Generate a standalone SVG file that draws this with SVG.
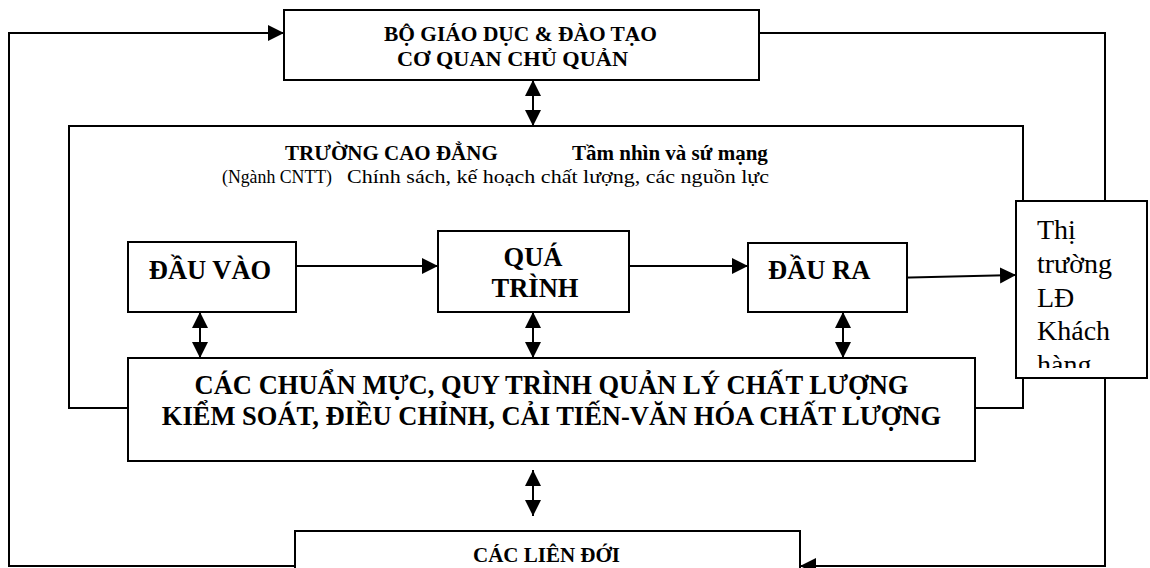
<svg xmlns="http://www.w3.org/2000/svg" width="1150" height="568" viewBox="0 0 1150 568">
  <style>
    .box { fill: #fff; stroke: #000; stroke-width: 2; }
    .wire { fill: none; stroke: #000; stroke-width: 2; }
    .b { font-family: "Liberation Serif", "Times New Roman", serif; font-weight: bold; fill: #000; }
    .r { font-family: "Liberation Serif", "Times New Roman", serif; fill: #000; }
  </style>
  <defs>
    <marker id="head" markerUnits="userSpaceOnUse" markerWidth="18" markerHeight="18" refX="16" refY="8" orient="auto-start-reverse">
      <path d="M0,0 L16,8 L0,16 Z" fill="#000"/>
    </marker>
    <clipPath id="marketClip">
      <rect x="1017" y="202" width="129" height="166"/>
    </clipPath>
  </defs>

  <rect width="1150" height="568" fill="#fff"/>

  <!-- connectors -->
  <g id="connectors">
    <!-- feedback loop: stakeholders to ministry (left) -->
    <path class="wire" d="M295,566 H9 V33 H284" marker-end="url(#head)"/>
    <!-- ministry to stakeholders (right) -->
    <path class="wire" d="M759,33 H1105 V566 H800" marker-end="url(#head)"/>
    <!-- college frame around the process chain -->
    <path class="wire" d="M128,408 H69 V126 H1023 V408 H975"/>
    <!-- ministry <-> college -->
    <line class="wire" x1="533" y1="80" x2="533" y2="126" marker-start="url(#head)" marker-end="url(#head)"/>
    <!-- process chain -->
    <line class="wire" x1="296" y1="266" x2="438" y2="266" marker-end="url(#head)"/>
    <line class="wire" x1="629" y1="266" x2="748" y2="266" marker-end="url(#head)"/>
    <line class="wire" x1="889" y1="278" x2="1016" y2="275" marker-end="url(#head)"/>
    <!-- links to the quality standards block -->
    <line class="wire" x1="200" y1="312" x2="200" y2="358" marker-start="url(#head)" marker-end="url(#head)"/>
    <line class="wire" x1="533" y1="312" x2="533" y2="358" marker-start="url(#head)" marker-end="url(#head)"/>
    <line class="wire" x1="843" y1="312" x2="843" y2="358" marker-start="url(#head)" marker-end="url(#head)"/>
    <line class="wire" x1="533" y1="470" x2="533" y2="516" marker-start="url(#head)" marker-end="url(#head)"/>
  </g>

  <!-- ministry / governing body -->
  <g id="ministry">
    <rect class="box" x="284" y="10" width="475" height="70"/>
    <text class="b" x="384" y="41" font-size="21" textLength="273" lengthAdjust="spacingAndGlyphs">BỘ GIÁO DỤC &amp; ĐÀO TẠO</text>
    <text class="b" x="397" y="66" font-size="21" textLength="231" lengthAdjust="spacingAndGlyphs">CƠ QUAN CHỦ QUẢN</text>
  </g>

  <!-- college header -->
  <g id="college">
    <text class="b" x="285" y="160" font-size="21">TRƯỜNG CAO ĐẲNG</text>
    <text class="b" x="572" y="160" font-size="21">Tầm nhìn và sứ mạng</text>
    <text class="r" x="222" y="183" font-size="19" textLength="110" lengthAdjust="spacingAndGlyphs">(Ngành CNTT)</text>
    <text class="r" x="347" y="183" font-size="19.5" textLength="422" lengthAdjust="spacingAndGlyphs">Chính sách, kế hoạch chất lượng, các nguồn lực</text>
  </g>

  <g id="input">
    <rect class="box" x="128" y="242" width="168" height="70"/>
    <text class="b" x="210" y="279" font-size="26.5" text-anchor="middle">ĐẦU VÀO</text>
  </g>

  <g id="process">
    <rect class="box" x="438" y="231" width="191" height="81"/>
    <text class="b" x="533" y="266" font-size="26.5" text-anchor="middle">QUÁ</text>
    <text class="b" x="535" y="297" font-size="26.5" text-anchor="middle">TRÌNH</text>
  </g>

  <g id="output">
    <rect class="box" x="748" y="243" width="159" height="69"/>
    <text class="b" x="768" y="279" font-size="26.5">ĐẦU RA</text>
  </g>

  <g id="market">
    <rect class="box" x="1016" y="201" width="131" height="177"/>
    <g clip-path="url(#marketClip)" class="r" font-size="28">
      <text x="1037" y="239">Thị</text>
      <text x="1037" y="273">trường</text>
      <text x="1037" y="307">LĐ</text>
      <text x="1037" y="340">Khách</text>
      <text x="1037" y="374">hàng</text>
    </g>
  </g>

  <g id="standards">
    <rect class="box" x="128" y="358" width="847" height="103"/>
    <text class="b" x="551.5" y="394" font-size="26.5" text-anchor="middle">CÁC CHUẨN MỰC, QUY TRÌNH QUẢN LÝ CHẤT LƯỢNG</text>
    <text class="b" x="551.5" y="425" font-size="26.5" text-anchor="middle">KIỂM SOÁT, ĐIỀU CHỈNH, CẢI TIẾN-VĂN HÓA CHẤT LƯỢNG</text>
  </g>

  <g id="stakeholders">
    <rect class="box" x="295" y="531" width="505" height="50"/>
    <text class="b" x="473" y="562" font-size="21">CÁC LIÊN ĐỚI</text>
  </g>
</svg>
